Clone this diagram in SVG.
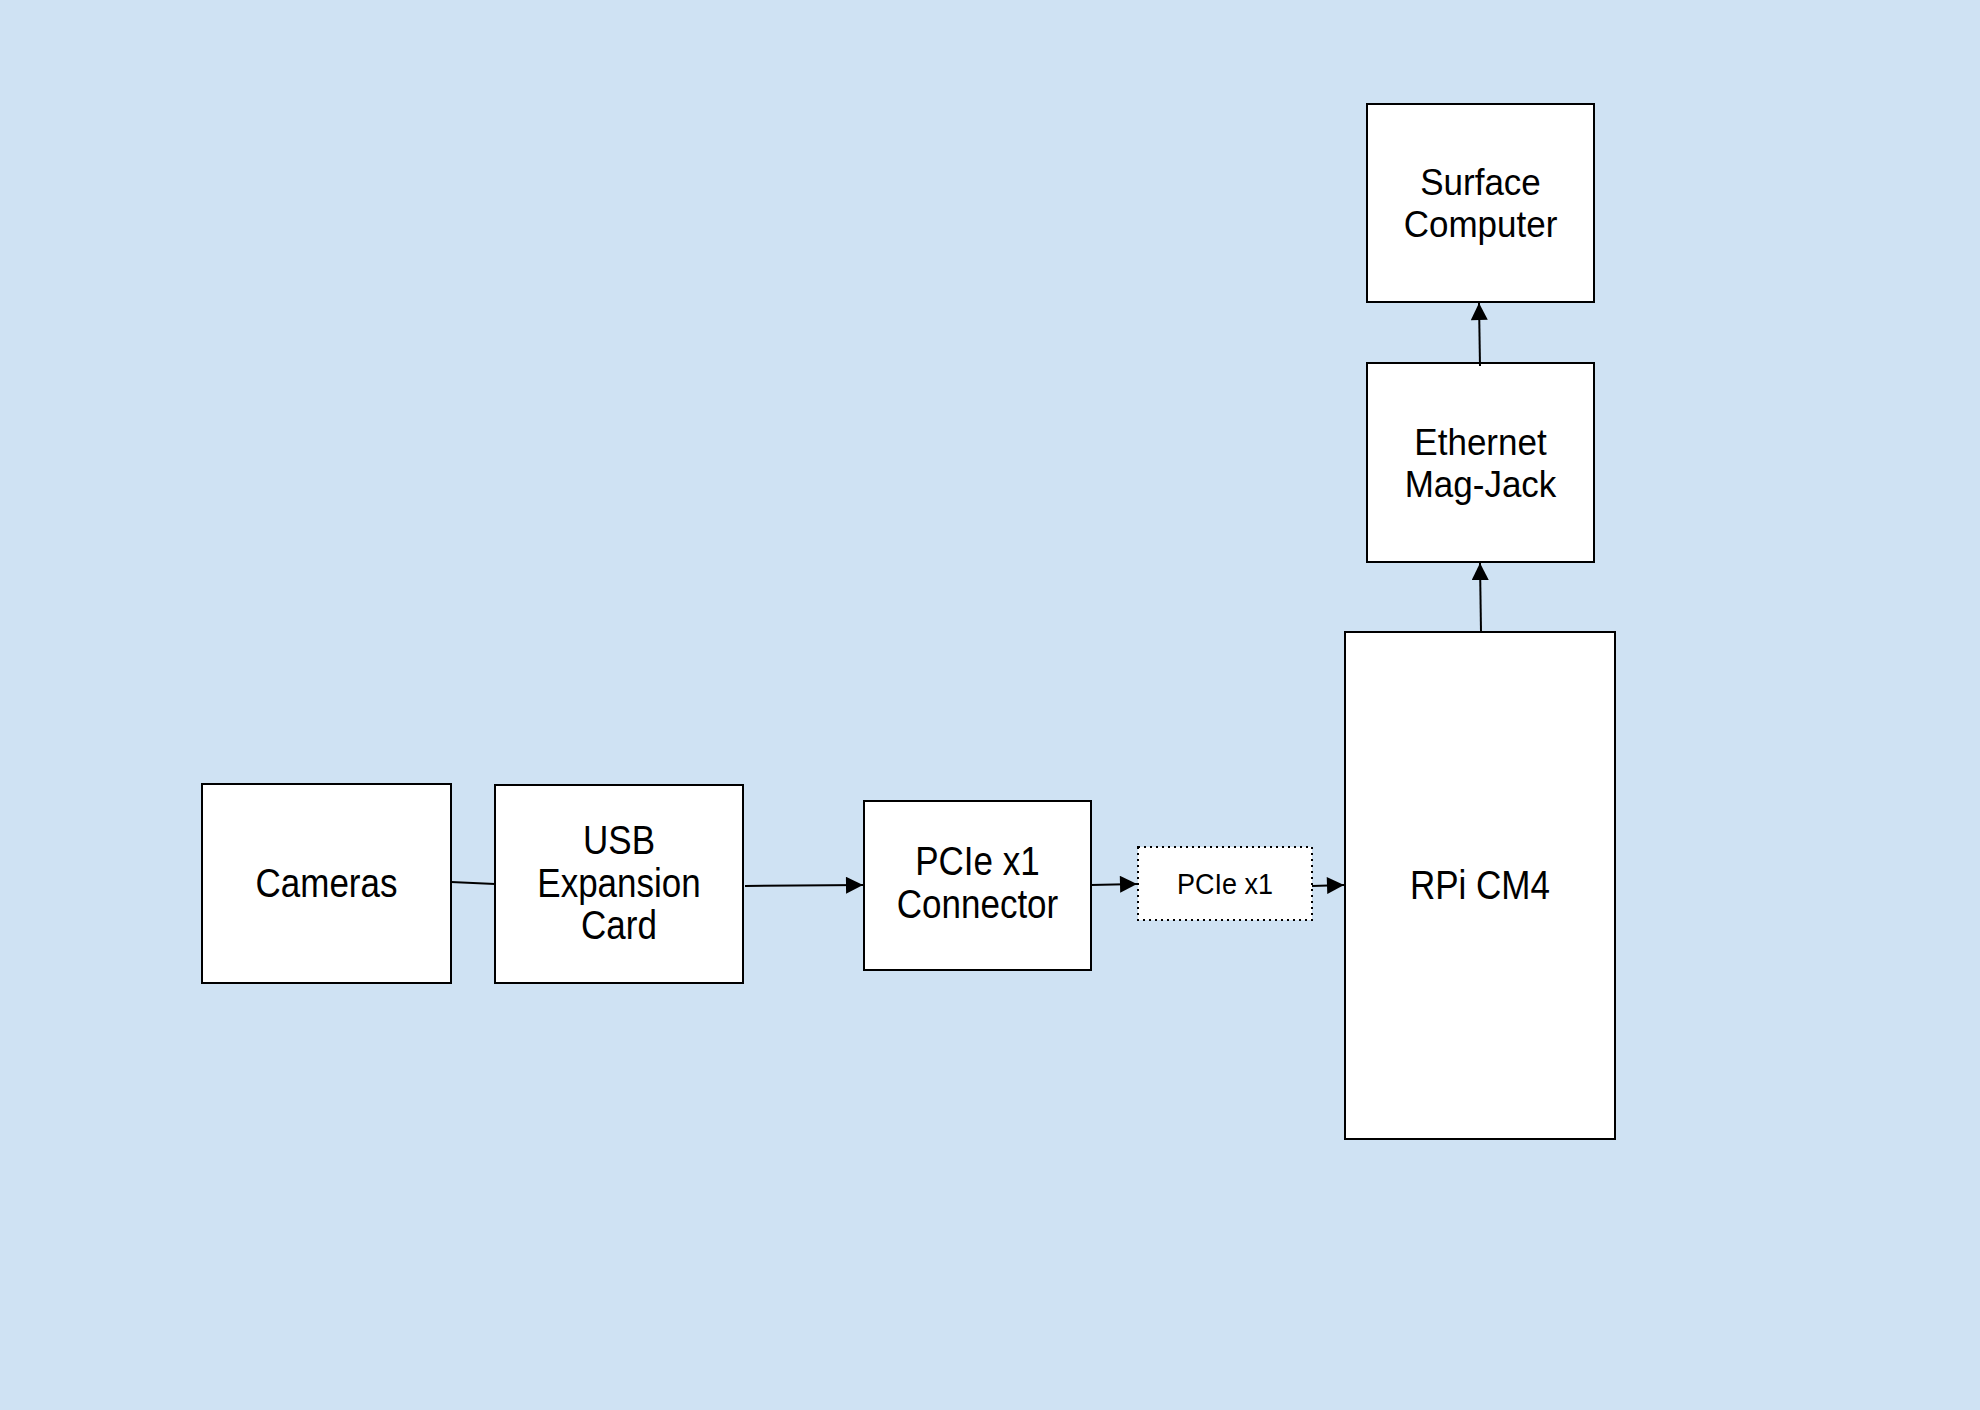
<svg xmlns="http://www.w3.org/2000/svg" width="1980" height="1410" viewBox="0 0 1980 1410">
<defs>
<style>
.box{fill:#ffffff;stroke:#000000;stroke-width:2}
.dot{fill:#ffffff;stroke:#000000;stroke-width:2;stroke-dasharray:2 4}
.t{font-family:"Liberation Sans",Arial,sans-serif;font-size:35px;fill:#000000;text-anchor:middle}
.s{font-family:"Liberation Sans",Arial,sans-serif;font-size:27px;fill:#000000;text-anchor:middle}
.c{stroke:#000000;stroke-width:2;fill:none}
</style>
<marker id="arrL" viewBox="0 0 10 10" refX="10" refY="5" markerWidth="19" markerHeight="17" markerUnits="userSpaceOnUse" orient="auto">
<path d="M0,0 L10,5 L0,10 z" fill="#000000"/>
</marker>
</defs>
<rect x="0" y="0" width="1980" height="1410" fill="#cfe2f3"/>
<g id="cameras">
<rect class="box" x="202" y="784" width="249" height="199"/>
<text class="t" transform="translate(326.5,897) scale(1,1.15)">Cameras</text>
</g>
<g id="usb">
<rect class="box" x="495" y="785" width="248" height="198"/>
<text class="t" transform="translate(619,854) scale(1,1.15)">USB</text>
<text class="t" transform="translate(619,897) scale(1,1.15)">Expansion</text>
<text class="t" transform="translate(619,939) scale(1,1.15)">Card</text>
</g>
<g id="pcie-connector">
<rect class="box" x="864" y="801" width="227" height="169"/>
<text class="t" transform="translate(977.5,875) scale(1,1.15)">PCIe x1</text>
<text class="t" transform="translate(977.5,918) scale(1,1.15)">Connector</text>
</g>
<g id="pcie">
<rect class="dot" x="1138" y="847" width="174" height="73"/>
<text class="s" transform="translate(1225,894) scale(1,1.12)">PCIe x1</text>
</g>
<g id="rpi">
<rect class="box" x="1345" y="632" width="270" height="507"/>
<text class="t" transform="translate(1480,899) scale(1,1.15)">RPi CM4</text>
</g>
<g id="ethernet">
<rect class="box" x="1367" y="363" width="227" height="199"/>
<text class="t" transform="translate(1480.5,455) scale(1,1.05)">Ethernet</text>
<text class="t" transform="translate(1480.5,497) scale(1,1.05)">Mag-Jack</text>
</g>
<g id="surface">
<rect class="box" x="1367" y="104" width="227" height="198"/>
<text class="t" transform="translate(1480.5,195) scale(1,1.05)">Surface</text>
<text class="t" transform="translate(1480.5,237) scale(1,1.05)">Computer</text>
</g>
<g id="connectors">
<line class="c" x1="451" y1="882" x2="495" y2="884"/>
<line class="c" x1="745" y1="886" x2="863" y2="885" marker-end="url(#arrL)"/>
<line class="c" x1="1091" y1="885" x2="1137" y2="884" marker-end="url(#arrL)"/>
<line class="c" x1="1312" y1="886" x2="1344" y2="885" marker-end="url(#arrL)"/>
<line class="c" x1="1481" y1="632" x2="1480" y2="563" marker-end="url(#arrL)"/>
<line class="c" x1="1480" y1="366" x2="1479" y2="303" marker-end="url(#arrL)"/>
</g>
</svg>
